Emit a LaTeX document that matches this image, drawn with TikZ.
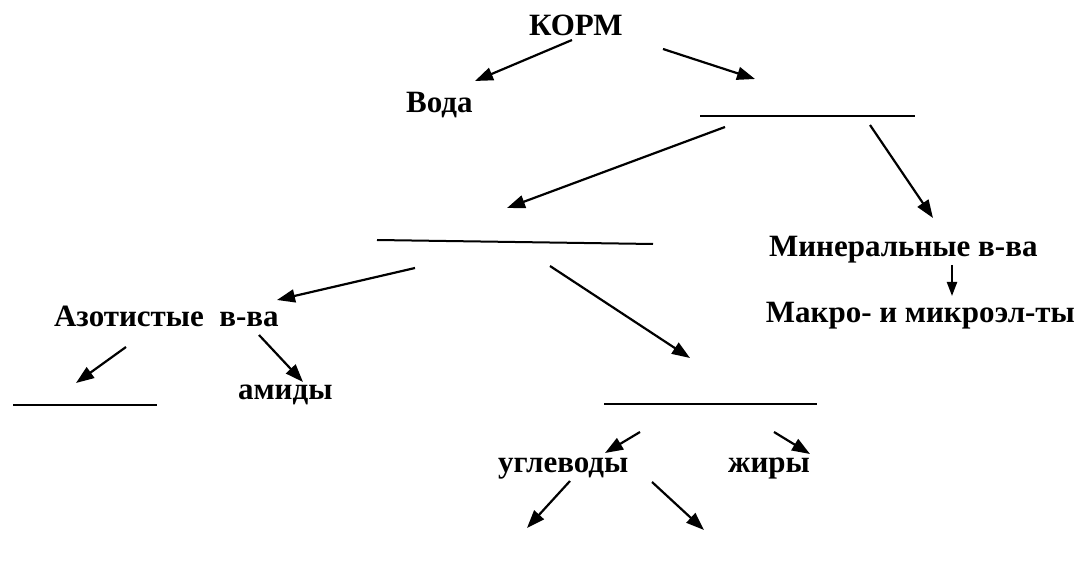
\documentclass[tikz,border=0pt]{standalone}
\usepackage{fontspec}
\newfontfamily\rufont{Liberation Serif}
\usetikzlibrary{arrows.meta}

\begin{document}
\begin{tikzpicture}[x=1pt, y=-1pt, line width=2.2pt,
    lbl/.style={anchor=base west, inner sep=0pt, font=\rufont\fontsize{31}{31}\selectfont\bfseries},
    arr/.style={-{Triangle[length=18pt, width=13pt]}},
    blank/.style={line width=2pt}]
    \useasboundingbox (0,0) rectangle (1080,577);

    % Texts
    \node[lbl] (korm) at (528,36) {КОРМ};
    \node[lbl] (voda) at (405,113) {Вода};
    \node[lbl] (miner) at (768,257) {Минеральные в-ва};
    \node[lbl, anchor=base east] (makro) at (1076,323) {Макро- и микроэл-ты};
    \node[lbl] (azot) at (53,327) {Азотистые\ \ в-ва};
    \node[lbl] (amidy) at (237,400) {амиды};
    \node[lbl] (uglev) at (497,472) {углеводы};
    \node[lbl] (zhiry) at (727,472) {жиры};

    % Blank lines
    \coordinate (blankA-l) at (700,116);
    \coordinate (blankA-r) at (915,116);
    \coordinate (blankB-l) at (377,240);
    \coordinate (blankB-r) at (653,244);
    \coordinate (blankC-l) at (13,405);
    \coordinate (blankC-r) at (157,405);
    \coordinate (blankD-l) at (604,404);
    \coordinate (blankD-r) at (817,404);
    \draw[blank] (blankA-l) -- (blankA-r);
    \draw[blank] (blankB-l) -- (blankB-r);
    \draw[blank] (blankC-l) -- (blankC-r);
    \draw[blank] (blankD-l) -- (blankD-r);

    % Arrow ends
    \coordinate (k1) at (572,40);    \coordinate (v1) at (475,81);
    \coordinate (k2) at (663,49);    \coordinate (a1) at (755,79);
    \coordinate (a2) at (725,127);   \coordinate (b1) at (507,208);
    \coordinate (a3) at (870,125);   \coordinate (m1) at (933,218);
    \coordinate (m2) at (952,265);   \coordinate (mk1) at (952,296);
    \coordinate (b2) at (415,268);   \coordinate (az1) at (277,300);
    \coordinate (b3) at (550,266);   \coordinate (d1) at (690,358);
    \coordinate (az2) at (126,347);  \coordinate (c1) at (76,383);
    \coordinate (az3) at (259,335);  \coordinate (am1) at (303,382);
    \coordinate (d2) at (640,432);   \coordinate (u1) at (605,453);
    \coordinate (d3) at (774,432);   \coordinate (zh1) at (810,454);
    \coordinate (u2) at (570,481);   \coordinate (e1) at (527,528);
    \coordinate (u3) at (652,482);   \coordinate (f1) at (704,530);

    % Arrows
    \draw[arr] (k1) -- (v1);
    \draw[arr] (k2) -- (a1);
    \draw[arr] (a2) -- (b1);
    \draw[arr] (a3) -- (m1);
    \draw[arr, -{Triangle[length=14pt, width=10pt]}] (m2) -- (mk1);
    \draw[arr] (b2) -- (az1);
    \draw[arr] (b3) -- (d1);
    \draw[arr] (az2) -- (c1);
    \draw[arr] (az3) -- (am1);
    \draw[arr] (d2) -- (u1);
    \draw[arr] (d3) -- (zh1);
    \draw[arr] (u2) -- (e1);
    \draw[arr] (u3) -- (f1);

\end{tikzpicture}
\end{document}
